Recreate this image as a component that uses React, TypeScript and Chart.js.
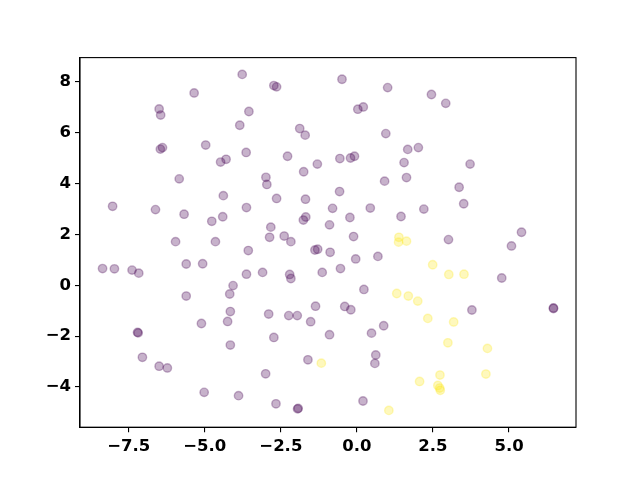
import React, { useEffect, useRef } from "react";
import { Chart, registerables } from "chart.js";

Chart.register(...registerables);

// Class 0 (dark purple) points
const class0X = [
  -3.77, -5.35, -6.5, -6.45, -3.55, -3.85, -6.46, -6.39, -4.97, -4.48, -4.3, -3.64, -5.84,
  -2.73, -2.64, -0.49, 1.01, 0.03, 0.21, -1.88, -1.7, 0.95, -2.28, -0.56, -0.21, -0.08,
  1.67, 1.55, -1.3, -1.75, -2.99, -2.96, 0.91, 1.63, 2.45, 2.92, 2.02, 3.72, 3.36,
  -4.39, -8.03, -6.62, -5.68, -4.77, -4.41, -3.63, -5.96, -4.65, -3.57, -8.36, -7.97,
  -7.39, -7.17, -5.61, -5.07, -3.63, -4.07, -4.18, -5.61, -0.57, -2.64, -1.69, -0.8,
  0.44, -1.68, -1.76, 1.45, -0.23, -0.9, -2.83, -2.87, -2.39, -2.17, -0.11, -1.38,
  -1.29, -0.88, -0.04, 0.69, -3.1, -2.21, -2.17, -1.14, -0.54, 0.23, 3.51, 2.2, 3.01,
  5.41, 5.08, 4.76, 6.46, 6.46, -4.16, -4.25, -5.11, -7.21, -7.19, -4.16, -7.05, -6.5,
  -6.23, -5.02, -3.89, -2.9, -2.24, -1.96, -1.36, -0.4, -0.2, -1.52, -2.73, -0.9, 0.48,
  0.88, -1.61, 0.62, 0.59, -3.0, -2.66, -1.93, -1.95, 0.2, 3.78,
];
const class0Y = [
  8.3, 7.57, 6.94, 6.7, 6.84, 6.3, 5.36, 5.42, 5.52, 4.85, 4.96, 5.23, 4.19,
  7.86, 7.81, 8.11, 7.78, 6.93, 7.02, 6.17, 5.91, 5.97, 5.08, 4.99, 5.01, 5.08,
  5.35, 4.83, 4.77, 4.47, 4.25, 3.97, 4.1, 4.24, 7.51, 7.16, 5.42, 4.77, 3.86,
  3.53, 3.11, 2.98, 2.8, 2.52, 2.7, 3.06, 1.72, 1.72, 1.37, 0.66, 0.65,
  0.6, 0.48, 0.84, 0.85, 0.44, -0.01, -0.34, -0.42, 3.69, 3.42, 3.39, 3.03,
  3.04, 2.69, 2.57, 2.71, 2.67, 2.38, 2.29, 1.89, 1.94, 1.72, 1.92, 1.39,
  1.42, 1.3, 1.04, 1.14, 0.51, 0.43, 0.27, 0.51, 0.66, -0.16, 3.21, 3.0, 1.8,
  2.09, 1.55, 0.29, -0.91, -0.89, -1.03, -1.42, -1.5, -1.85, -1.87, -2.35, -2.83, -3.18,
  -3.25, -4.21, -4.34, -1.13, -1.19, -1.19, -0.82, -0.83, -0.96, -1.43, -2.05, -1.94, -1.88,
  -1.59, -2.93, -2.74, -3.07, -3.48, -4.66, -4.84, -4.86, -4.55, -0.97,
];

// Class 1 (yellow) points
const class1X = [
  1.38, 1.37, 1.63, 1.31, 1.69, 2.0, 2.49, 3.02, 3.52, 2.33, 3.18, 2.99, 4.29, 2.06,
  2.73, 4.24, 2.66, 2.72, 2.74, -1.17, 1.05,
];
const class1Y = [
  1.89, 1.7, 1.74, -0.32, -0.42, -0.62, 0.81, 0.43, 0.44, -1.3, -1.44, -2.26, -2.48,
  -3.78, -3.53, -3.49, -3.94, -4.04, -4.13, -3.06, -4.92,
];

const xTickValues = [-7.5, -5.0, -2.5, 0.0, 2.5, 5.0];
const yTickValues = [-4, -2, 0, 2, 4, 6, 8];

const class0Color = "rgba(68, 1, 84, 0.3)";
const class1Color = "rgba(253, 231, 37, 0.3)";

function limits(values: number[]): [number, number] {
  const lo = Math.min(...values);
  const hi = Math.max(...values);
  const m = (hi - lo) * 0.05;
  return [lo - m, hi + m];
}

const fmt = (v: number, digits: number) => {
  const s = Math.abs(v).toFixed(digits);
  return v < 0 ? "\u2212" + s : s;
};

export default function App() {
  const canvasRef = useRef<HTMLCanvasElement | null>(null);

  useEffect(() => {
    const canvas = canvasRef.current;
    if (!canvas) return;
    const [xMin, xMax] = limits([...class0X, ...class1X]);
    const [yMin, yMax] = limits([...class0Y, ...class1Y]);

    const toPts = (xs: number[], ys: number[]) => xs.map((x, i) => ({ x, y: ys[i] }));

    const frame = {
      id: "frame",
      afterDraw(chart: any) {
        const { ctx, chartArea } = chart;
        ctx.save();
        ctx.strokeStyle = "#000";
        ctx.lineWidth = 1.1;
        ctx.strokeRect(chartArea.left, chartArea.top, chartArea.right - chartArea.left, chartArea.bottom - chartArea.top);
        ctx.restore();
      },
    };

    const font = { family: "'DejaVu Sans'", weight: "bold" as const, size: 16.5 };

    const chart = new Chart(canvas, {
      type: "scatter",
      data: {
        datasets: [
          {
            data: toPts(class0X, class0Y),
            backgroundColor: class0Color,
            borderColor: class0Color,
            borderWidth: 1.4,
            pointRadius: 4.2,
            pointHoverRadius: 4.2,
          },
          {
            data: toPts(class1X, class1Y),
            backgroundColor: class1Color,
            borderColor: class1Color,
            borderWidth: 1.4,
            pointRadius: 4.2,
            pointHoverRadius: 4.2,
          },
        ],
      },
      options: {
        animation: false,
        responsive: false,
        events: [],
        layout: { padding: { top: 57.6, right: 64, left: 0, bottom: 0 } },
        plugins: { legend: { display: false }, tooltip: { enabled: false } },
        scales: {
          x: {
            type: "linear",
            min: xMin,
            max: xMax,
            afterBuildTicks: (scale: any) => {
              scale.ticks = xTickValues.map((v) => ({ value: v }));
            },
            afterFit: (scale: any) => {
              scale.height = 52.8;
            },
            grid: { drawOnChartArea: false, drawTicks: true, tickLength: 5, color: "#000", lineWidth: 1.1 },
            border: { display: true, color: "#000", width: 1.1 },
            ticks: {
              color: "#000",
              font,
              padding: 5,
              maxRotation: 0,
              autoSkip: false,
              callback: (v: any) => fmt(Number(v), 1),
            },
          },
          y: {
            type: "linear",
            min: yMin,
            max: yMax,
            afterBuildTicks: (scale: any) => {
              scale.ticks = yTickValues.map((v) => ({ value: v }));
            },
            afterFit: (scale: any) => {
              scale.width = 80;
            },
            grid: { drawOnChartArea: false, drawTicks: true, tickLength: 5, color: "#000", lineWidth: 1.1 },
            border: { display: true, color: "#000", width: 1.1 },
            ticks: {
              color: "#000",
              font,
              padding: 4,
              autoSkip: false,
              callback: (v: any) => fmt(Number(v), 0),
            },
          },
        },
      },
      plugins: [frame],
    });
    return () => chart.destroy();
  }, []);

  return (
    <div style={{ position: "fixed", left: 0, top: 0, width: 640, height: 480, background: "#fff" }}>
      <canvas ref={canvasRef} width={640} height={480} style={{ width: 640, height: 480, display: "block" }} />
    </div>
  );
}
